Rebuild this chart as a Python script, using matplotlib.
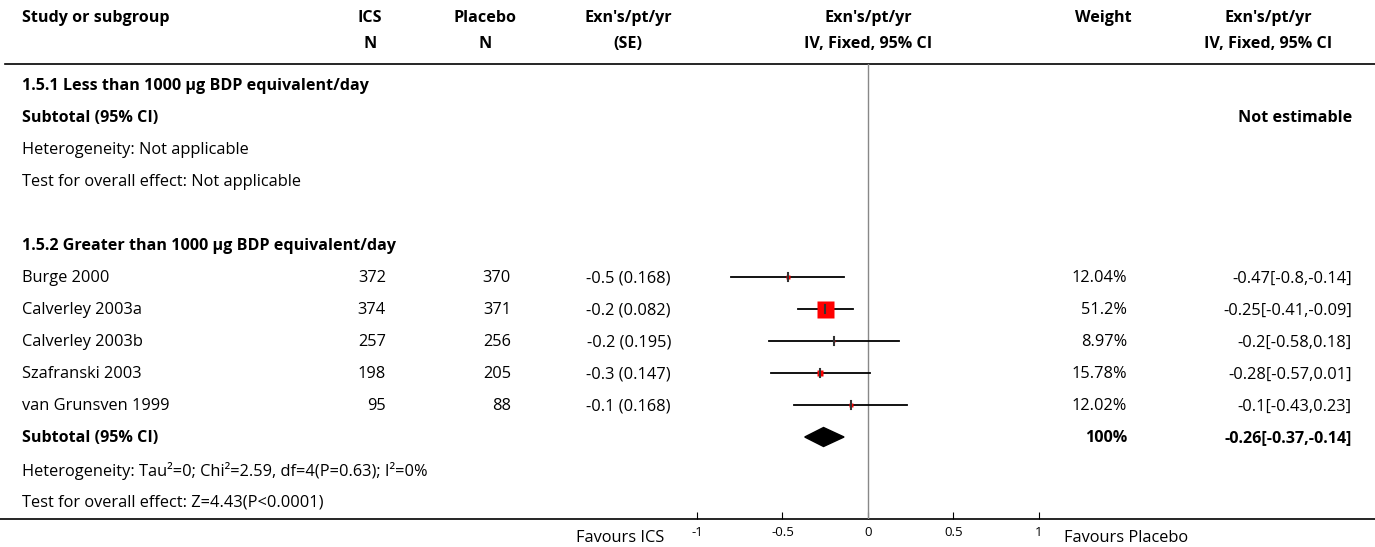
import matplotlib
matplotlib.use("Agg")
import matplotlib.pyplot as plt

plt.rcParams['font.family'] = ['Open Sans', 'DejaVu Sans']
plt.rcParams['axes.unicode_minus'] = False

# Data
studies = ["Burge 2000", "Calverley 2003a", "Calverley 2003b", "Szafranski 2003", "van Grunsven 1999"]
n_ics = [372, 374, 257, 198, 95]
n_placebo = [370, 371, 256, 205, 88]
exn = [-0.5, -0.2, -0.2, -0.3, -0.1]
se = [0.168, 0.082, 0.195, 0.147, 0.168]
weights = ["12.04%", "51.2%", "8.97%", "15.78%", "12.02%"]
weight_vals = [12.04, 51.2, 8.97, 15.78, 12.02]
md = [-0.47, -0.25, -0.2, -0.28, -0.1]
ci_lo = [-0.8, -0.41, -0.58, -0.57, -0.43]
ci_hi = [-0.14, -0.09, 0.18, 0.01, 0.23]
total_md, total_lo, total_hi = -0.26, -0.37, -0.14
total_ci_text = "-0.26[-0.37,-0.14]"
ci_texts = ["-0.47[-0.8,-0.14]", "-0.25[-0.41,-0.09]", "-0.2[-0.58,0.18]",
            "-0.28[-0.57,0.01]", "-0.1[-0.43,0.23]"]
xticks = [-1, -0.5, 0, 0.5, 1]

W, H = 1375, 547
fig = plt.figure(figsize=(W / 100, H / 100), dpi=100)
bg = fig.add_axes([0, 0, 1, 1])
bg.set_xlim(0, W)
bg.set_ylim(H, 0)
bg.axis('off')

fs = 11.8
fsb = 11.6
left = 22
top, bottom = 64, 519
row0, step = 85, 32
toff = 1.5  # text sits a little lower than the row centre


def row_y(i):
    return row0 + i * step


def txt(x, y, s, ha='left', bold=False):
    bg.text(x, y + toff, s, ha=ha, va='center', fontsize=fsb if bold else fs,
            fontweight='bold' if bold else 'normal')


# header
txt(left, 17, "Study or subgroup", bold=True)
txt(370, 17, "ICS", 'center', True)
txt(370, 43, "N", 'center', True)
txt(485, 17, "Placebo", 'center', True)
txt(485, 43, "N", 'center', True)
txt(628, 17, "Exn's/pt/yr", 'center', True)
txt(628, 43, "(SE)", 'center', True)
txt(868, 17, "Exn's/pt/yr", 'center', True)
txt(868, 43, "IV, Fixed, 95% CI", 'center', True)
txt(1103, 17, "Weight", 'center', True)
txt(1268, 17, "Exn's/pt/yr", 'center', True)
txt(1268, 43, "IV, Fixed, 95% CI", 'center', True)

bg.plot([5, W], [top, top], color='black', lw=1.2)
bg.plot([0, W], [bottom, bottom], color='black', lw=1.2)

# section 1.5.1
txt(left, row_y(0), "1.5.1 Less than 1000 µg BDP equivalent/day", bold=True)
txt(left, row_y(1), "Subtotal (95% CI)", bold=True)
txt(1352, row_y(1), "Not estimable", 'right', True)
txt(left, row_y(2), "Heterogeneity: Not applicable")
txt(left, row_y(3), "Test for overall effect: Not applicable")

# section 1.5.2
txt(left, row_y(5), "1.5.2 Greater than 1000 µg BDP equivalent/day", bold=True)
for i, name in enumerate(studies):
    y = row_y(6 + i)
    txt(left, y, name)
    txt(386, y, str(n_ics[i]), 'right')
    txt(511, y, str(n_placebo[i]), 'right')
    txt(671, y, f"{exn[i]} ({se[i]})", 'right')
    txt(1127, y, weights[i], 'right')
    txt(1352, y, ci_texts[i], 'right')

ys = row_y(11)
txt(left, ys, "Subtotal (95% CI)", bold=True)
txt(1127, ys, "100%", 'right', True)
txt(1352, ys, total_ci_text, 'right', True)
txt(left, row_y(12), "Heterogeneity: Tau²=0; Chi²=2.59, df=4(P=0.63); I²=0%")
txt(left, row_y(13), "Test for overall effect: Z=4.43(P<0.0001)")

txt(664, 537, "Favours ICS", 'right')
txt(1064, 537, "Favours Placebo")

# forest panel
x0, x1 = 697, 1039
ax = fig.add_axes([x0 / W, (H - bottom) / H, (x1 - x0) / W, (bottom - top) / H])
ax.set_xlim(-1, 1)
ax.set_ylim(bottom, top)
ax.patch.set_alpha(0)
for s in ax.spines.values():
    s.set_visible(False)
ax.set_yticks([])
ax.set_xticks(xticks)
ax.set_xticklabels([str(t) for t in xticks], fontsize=9.5)
ax.tick_params(axis='x', direction='in', length=5, width=0.8, pad=5)
ax.axvline(0, color='#888888', lw=1)

max_side = 17.0
for i in range(len(studies)):
    y = row_y(6 + i)
    ax.plot([ci_lo[i], ci_hi[i]], [y, y], color='black', lw=1.3, clip_on=False)
    side = max_side * weight_vals[i] / max(weight_vals)
    ax.plot(md[i], y, marker='s', ms=side * 0.72, color='red', mec='none', clip_on=False, zorder=3)
    ax.plot([md[i], md[i]], [y - 4, y + 4], color='#333333', lw=1.5, clip_on=False, zorder=4)

dh = 9.5
ax.fill([total_lo, total_md, total_hi, total_md], [ys, ys - dh, ys, ys + dh], color='black', zorder=3)

fig.savefig("out.png", dpi=100)
